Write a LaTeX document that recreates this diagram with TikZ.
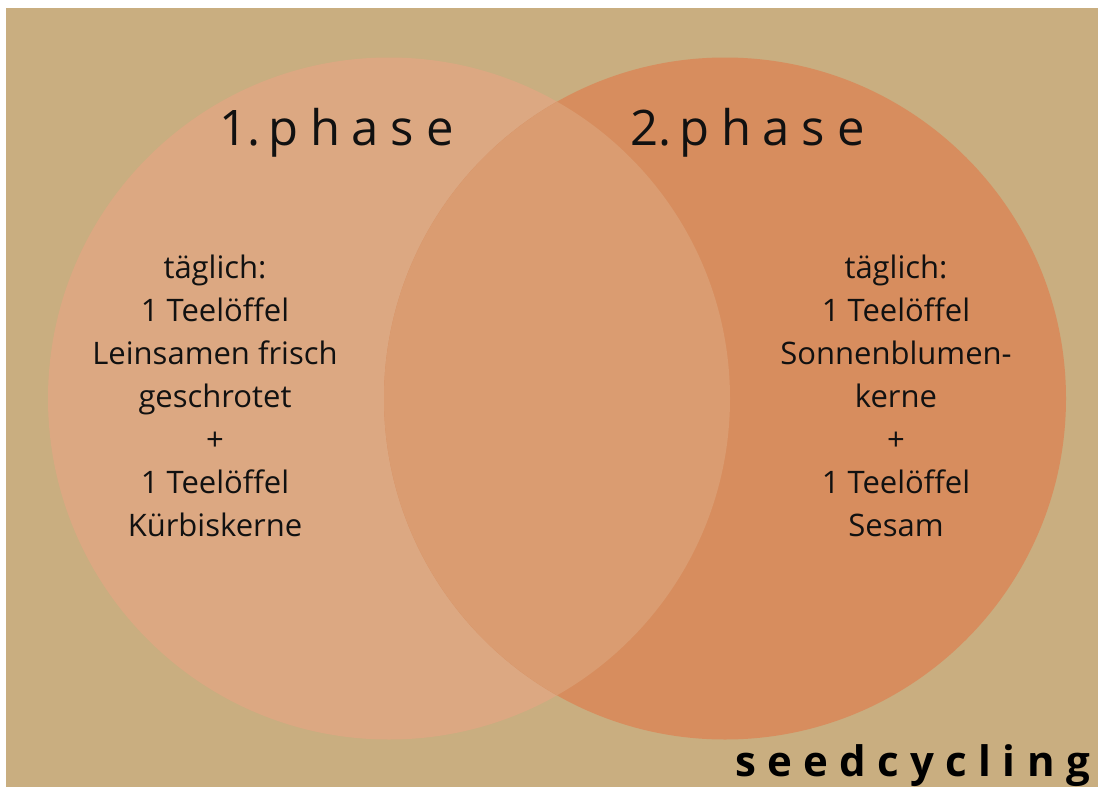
\documentclass[tikz,border=0pt]{standalone}
\usepackage{fontspec}
\setmainfont{Open Sans}
\usetikzlibrary{positioning}

\definecolor{bgtan}{HTML}{C9AE80}
\definecolor{phaseone}{HTML}{DCA882}
\definecolor{phasetwo}{HTML}{D78D5E}
\definecolor{phaseboth}{HTML}{DA9C71}
\definecolor{inkblack}{HTML}{111111}

\tikzset{
  phasetitle/.style={text=inkblack, inner sep=0pt, anchor=base west,
    font=\fontsize{49}{49}\selectfont},
  seedlist/.style={text=inkblack, inner sep=0pt, anchor=base, align=center,
    font=\fontsize{31}{43}\selectfont},
  brand/.style={text=black, inner sep=0pt, anchor=base east,
    font=\fontsize{42}{42}\selectfont\bfseries\addfontfeatures{LetterSpace=27}},
}

\begin{document}
\begin{tikzpicture}[x=1pt, y=-1pt]
\useasboundingbox (0,0) rectangle (1098,787);
%the backdrop
\fill [white] (0,0) rectangle (1098,787);
\fill [bgtan] (6,8) rectangle (1098,787);

%the two circles
\fill [phaseone] (389,398.5) circle (341pt);
\fill [phasetwo] (725,398.5) circle (341pt);
%the overlap
\begin{scope}
  \clip (389,398.5) circle (341pt);
  \fill [phaseboth] (725,398.5) circle (341pt);
\end{scope}

%the titles
\node [phasetitle] (titleone) at (219,145) {1.\hspace{8pt}{\addfontfeatures{LetterSpace=24}phase}};
\node [phasetitle] (titletwo) at (630,145) {2.\hspace{8pt}{\addfontfeatures{LetterSpace=24}phase}};

%the seeds (anchored at the last line)
\node [seedlist] (seedsone) at (215,536) {täglich:\\1 Teelöffel\\Leinsamen frisch\\geschrotet\\+\\1 Teelöffel\\Kürbiskerne};
\node [seedlist] (seedstwo) at (896,536) {täglich:\\1 Teelöffel\\Sonnenblumen-\\kerne\\+\\1 Teelöffel\\Sesam};

%the label
\node [brand] (brandname) at (1090,776) {seedcycling};
\end{tikzpicture}
\end{document}
